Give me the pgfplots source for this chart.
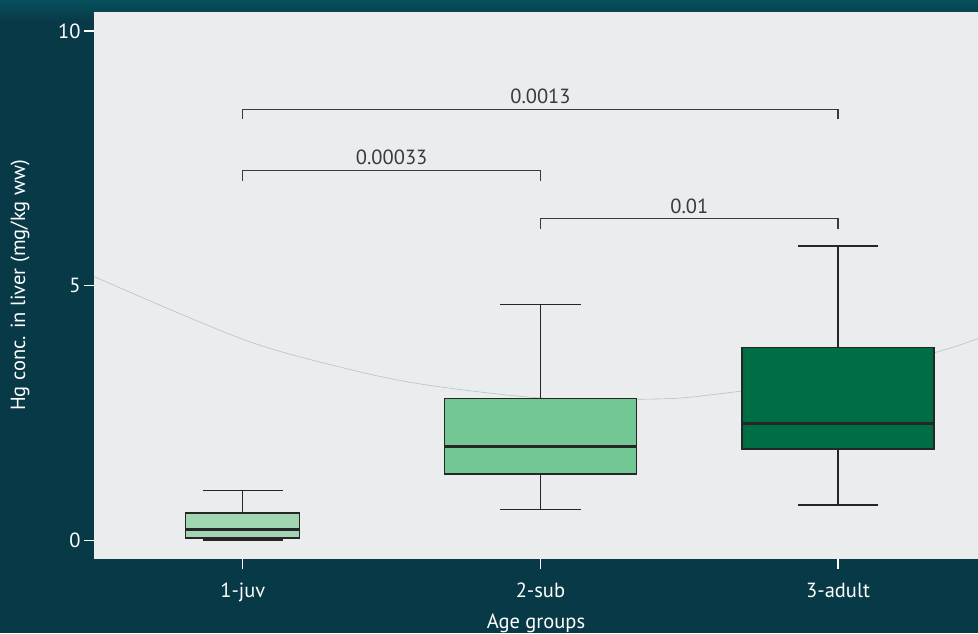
\documentclass[border=0pt]{standalone}
\usepackage{fontspec}
\setmainfont{PT Sans}
\usepackage{pgfplots}
\pgfplotsset{compat=1.18}
\usepgfplotslibrary{statistics}
\definecolor{bgteal}{HTML}{083947}
\definecolor{plotbg}{HTML}{EBECEE}
\definecolor{boxa}{HTML}{A2D6B3}
\definecolor{boxb}{HTML}{72C794}
\definecolor{boxc}{HTML}{006E44}
\definecolor{boxline}{HTML}{262626}
\definecolor{curvegray}{HTML}{B5C3C8}
\definecolor{brk}{HTML}{3A3A3A}
\newcommand\lbl{\fontsize{20.5}{24}\selectfont}
\begin{document}
\begin{tikzpicture}[x=1pt,y=1pt]
\fill[bgteal] (0,0) rectangle (978,633);
\shade[top color=bgteal!80!cyan!60!bgteal, bottom color=bgteal] (0,612) rectangle (978,633);
\path[use as bounding box] (0,0) rectangle (978,633);
\begin{axis}[
  at={(94pt,74.5pt)}, anchor=south west,
  scale only axis, width=884pt, height=546pt,
  xmin=-0.5, xmax=2.47, ymin=-0.35, ymax=10.36,
  axis background/.style={fill=plotbg},
  axis line style={draw=none},
  tick align=outside, major tick length=10pt,
  tick style={white, line width=1.3pt},
  xtick pos=bottom, ytick pos=left,
  xtick={0,1,2}, xticklabels={1-juv,2-sub,3-adult},
  ytick={0,5,10},
  /pgf/number format/assume math mode=true,
  ticklabel style={font=\lbl, text=white},
  every x tick label/.append style={anchor=base, yshift=-29pt},
  xlabel={Age groups}, ylabel={Hg conc. in liver (mg/kg ww)},
  every axis x label/.style={at={(axis description cs:0.5,-0.129)}, anchor=base, font=\lbl, text=white},
  every axis y label/.style={at={(axis description cs:-0.0837,0.5)}, rotate=90, anchor=center, font=\lbl, text=white},
  boxplot/draw direction=y,
  boxplot/every median/.style={line width=2.4pt},
  clip=true,
]
% faint background curve
\addplot[smooth, line width=0.6pt, color=curvegray] coordinates {
 (-0.55,5.35) (-0.5,5.18) (0,3.95) (0.33,3.40) (0.6,3.07) (1.0,2.80) (1.4,2.78) (1.6,2.88) (2.0,3.20) (2.32,3.68) (2.47,3.96) (2.55,4.12)};
% boxes
\addplot[boxplot prepared={draw position=0, lower whisker=0.01, lower quartile=0.05, median=0.22, upper quartile=0.54, upper whisker=0.99, box extend=0.383, whisker extend=0.27}, fill=boxa, draw=boxline, line width=1.3pt] coordinates {};
\addplot[boxplot prepared={draw position=1, lower whisker=0.61, lower quartile=1.31, median=1.85, upper quartile=2.79, upper whisker=4.63, box extend=0.645, whisker extend=0.27}, fill=boxb, draw=boxline, line width=1.3pt] coordinates {};
\addplot[boxplot prepared={draw position=2, lower whisker=0.70, lower quartile=1.80, median=2.30, upper quartile=3.79, upper whisker=5.78, box extend=0.645, whisker extend=0.27}, fill=boxc, draw=boxline, line width=1.3pt] coordinates {};
% significance brackets
\addplot[sharp plot, brk, line width=1.3pt] coordinates {(0,8.27) (0,8.46) (2,8.46) (2,8.27)};
\addplot[sharp plot, brk, line width=1.3pt] coordinates {(0,7.06) (0,7.26) (1,7.26) (1,7.06)};
\addplot[sharp plot, brk, line width=1.3pt] coordinates {(1,6.12) (1,6.32) (2,6.32) (2,6.12)};
\node[font=\lbl, text=brk, anchor=center] at (axis cs:1,8.72) {0.0013};
\node[font=\lbl, text=brk, anchor=center] at (axis cs:0.5,7.51) {0.00033};
\node[font=\lbl, text=brk, anchor=center] at (axis cs:1.5,6.55) {0.01};
\end{axis}
\end{tikzpicture}
\end{document}
